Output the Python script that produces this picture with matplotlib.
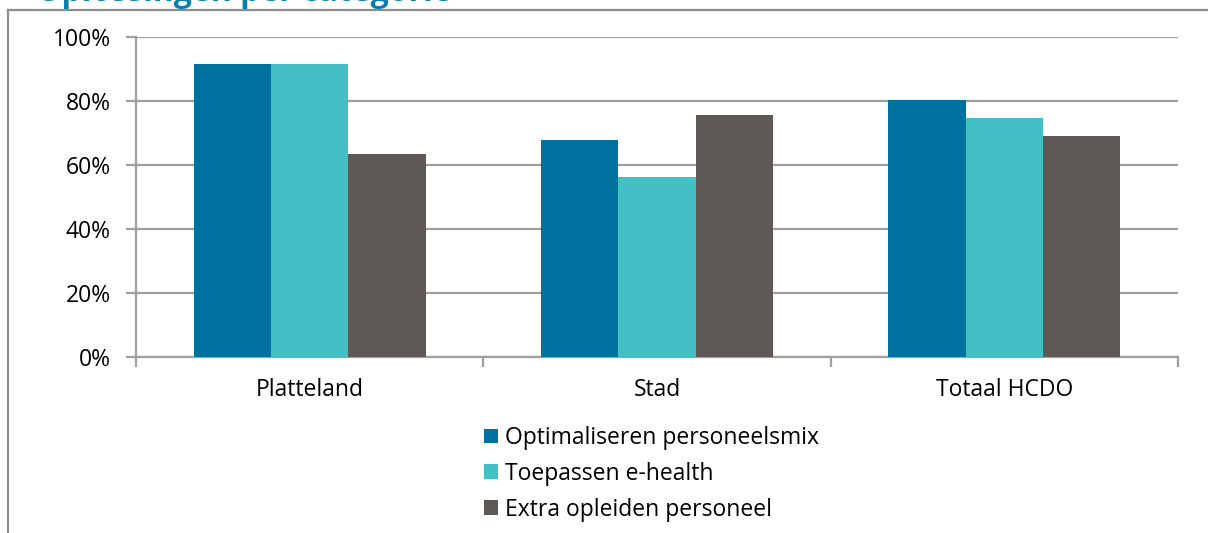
import matplotlib
matplotlib.use("Agg")
import matplotlib.pyplot as plt
from matplotlib.lines import Line2D
import numpy as np

categories = ["Platteland", "Stad", "Totaal HCDO"]
series_names = ["Optimaliseren personeelsmix", "Toepassen e-health", "Extra opleiden personeel"]
optimaliseren = [91.6, 67.7, 80.3]
ehealth = [91.6, 56.3, 74.8]
opleiden = [63.3, 75.7, 69.2]
yticks = [0, 20, 40, 60, 80, 100]
ytick_labels = ["0%", "20%", "40%", "60%", "80%", "100%"]
title = "Oplossingen per categorie"

colors = ["#00729F", "#43C0C6", "#5E5955"]
grid_color = "#A0A0A0"

plt.rcParams["font.family"] = ["Open Sans", "DejaVu Sans"]

W, H = 1208, 533
fig = plt.figure(figsize=(W / 100, H / 100), dpi=100)
ax = fig.add_axes([136 / W, 1 - 357 / H, 1042 / W, 320 / H])

x = np.arange(len(categories))
bw = 0.2225
for i, (vals, name) in enumerate(zip([optimaliseren, ehealth, opleiden], series_names)):
    ax.bar(x + (i - 1) * bw, vals, width=bw, color=colors[i], label=name, zorder=3)

ax.set_xlim(-0.5, len(categories) - 0.5)
ax.set_ylim(0, 100)
ax.set_yticks(yticks)
ax.set_yticklabels(ytick_labels, fontsize=16.5)
ax.yaxis.grid(True, color=grid_color, linewidth=1.6, zorder=0)
ax.set_axisbelow(True)

ax.set_xticks(x)
ax.set_xticklabels(categories, fontsize=16.5)
ax.tick_params(axis="x", which="major", length=0, pad=15)
ax.set_xticks(np.arange(len(categories) + 1) - 0.5, minor=True)
ax.tick_params(axis="x", which="minor", length=7, width=1.6, color=grid_color)
ax.tick_params(axis="y", length=7, width=1.6, color=grid_color, pad=11)

for s in ["top", "right"]:
    ax.spines[s].set_visible(False)
for s in ["left", "bottom"]:
    ax.spines[s].set_color(grid_color)
    ax.spines[s].set_linewidth(1.6)

leg = fig.legend(loc="upper left", bbox_to_anchor=(484 / W, 1 - 426 / H), frameon=False,
                 fontsize=16.5, handlelength=0.62, handleheight=0.62, handletextpad=0.3,
                 labelspacing=0.52, borderpad=0, borderaxespad=0)

# outer frame lines of the original chart area
fig.add_artist(Line2D([8 / W, 1], [1 - 10 / H, 1 - 10 / H], color="#8C8C8C", linewidth=1.6))
fig.add_artist(Line2D([8 / W, 8 / W], [0, 1 - 10 / H], color="#8C8C8C", linewidth=1.6))

# cut-off title at the very top
fig.text(36 / W, 1 - 1 / H, title, fontsize=23, fontweight="bold", color="#0A7FB0",
         va="baseline", ha="left")

fig.savefig("out.png", dpi=100)
